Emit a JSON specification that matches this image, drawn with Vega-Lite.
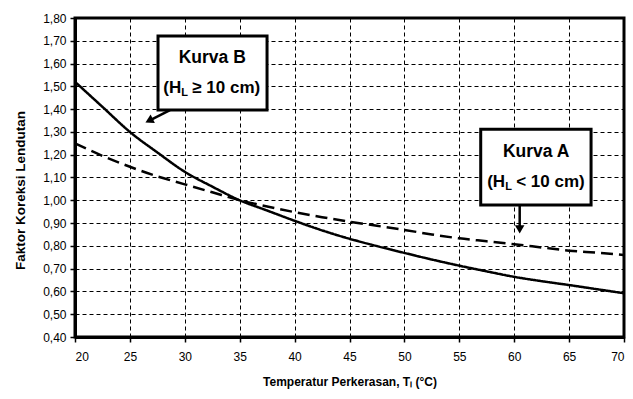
{
  "$schema": "https://vega.github.io/schema/vega-lite/v6.json",
  "width": 549,
  "height": 319,
  "autosize": "none",
  "padding": {"left": 75, "top": 18, "right": 9, "bottom": 62},
  "background": "white",
  "config": {
    "font": "Liberation Sans",
    "view": {"stroke": "black", "strokeWidth": 3},
    "axis": {
      "labelFont": "Liberation Sans",
      "labelFontSize": 12,
      "labelColor": "black",
      "domainColor": "black",
      "domainWidth": 3,
      "tickColor": "black",
      "tickWidth": 1.5,
      "tickSize": 5,
      "gridColor": "black",
      "gridDash": [4, 3],
      "gridWidth": 1,
      "gridOpacity": 1,
      "titleFont": "Liberation Sans",
      "titleFontWeight": "bold",
      "titleColor": "black"
    }
  },
  "encoding": {
    "x": {
      "field": "x",
      "type": "quantitative",
      "scale": {"domain": [20, 70], "nice": false, "zero": false},
      "axis": {
        "grid": true,
        "values": [20, 25, 30, 35, 40, 45, 50, 55, 60, 65, 70],
        "labelOverlap": false,
        "title": "Temperatur Perkerasan, Tₗ (°C)",
        "titleFontSize": 12,
        "titlePadding": 14,
        "labelPadding": 9
      }
    },
    "y": {
      "field": "y",
      "type": "quantitative",
      "scale": {"domain": [0.4, 1.8], "nice": false, "zero": false},
      "axis": {
        "grid": true,
        "values": [0.4, 0.5, 0.6, 0.7, 0.8, 0.9, 1.0, 1.1, 1.2, 1.3, 1.4, 1.5, 1.6, 1.7, 1.8],
        "labelOverlap": false,
        "labelExpr": "replace(format(datum.value, '.2f'), '.', ',')",
        "title": "Faktor Koreksi Lendutan",
        "titleFontSize": 13.5,
        "titlePadding": 15,
        "titleY": 172,
        "labelPadding": 4
      }
    }
  },
  "layer": [
    {
      "data": {
        "values": [
          {"x": 20, "y": 1.52, "kurva": "B"},
          {"x": 22.5, "y": 1.41, "kurva": "B"},
          {"x": 25, "y": 1.30, "kurva": "B"},
          {"x": 27.5, "y": 1.21, "kurva": "B"},
          {"x": 30, "y": 1.125, "kurva": "B"},
          {"x": 32.5, "y": 1.06, "kurva": "B"},
          {"x": 35, "y": 1.00, "kurva": "B"},
          {"x": 37.5, "y": 0.955, "kurva": "B"},
          {"x": 40, "y": 0.91, "kurva": "B"},
          {"x": 42.5, "y": 0.868, "kurva": "B"},
          {"x": 45, "y": 0.831, "kurva": "B"},
          {"x": 47.5, "y": 0.799, "kurva": "B"},
          {"x": 50, "y": 0.769, "kurva": "B"},
          {"x": 52.5, "y": 0.74, "kurva": "B"},
          {"x": 55, "y": 0.713, "kurva": "B"},
          {"x": 57.5, "y": 0.688, "kurva": "B"},
          {"x": 60, "y": 0.664, "kurva": "B"},
          {"x": 62.5, "y": 0.645, "kurva": "B"},
          {"x": 65, "y": 0.628, "kurva": "B"},
          {"x": 67.5, "y": 0.61, "kurva": "B"},
          {"x": 70, "y": 0.592, "kurva": "B"},
          {"x": 20, "y": 1.25, "kurva": "A"},
          {"x": 22.5, "y": 1.195, "kurva": "A"},
          {"x": 25, "y": 1.147, "kurva": "A"},
          {"x": 27.5, "y": 1.105, "kurva": "A"},
          {"x": 30, "y": 1.07, "kurva": "A"},
          {"x": 32.5, "y": 1.035, "kurva": "A"},
          {"x": 35, "y": 1.00, "kurva": "A"},
          {"x": 37.5, "y": 0.973, "kurva": "A"},
          {"x": 40, "y": 0.948, "kurva": "A"},
          {"x": 42.5, "y": 0.926, "kurva": "A"},
          {"x": 45, "y": 0.906, "kurva": "A"},
          {"x": 47.5, "y": 0.888, "kurva": "A"},
          {"x": 50, "y": 0.87, "kurva": "A"},
          {"x": 52.5, "y": 0.85, "kurva": "A"},
          {"x": 55, "y": 0.833, "kurva": "A"},
          {"x": 57.5, "y": 0.82, "kurva": "A"},
          {"x": 60, "y": 0.807, "kurva": "A"},
          {"x": 62.5, "y": 0.793, "kurva": "A"},
          {"x": 65, "y": 0.779, "kurva": "A"},
          {"x": 67.5, "y": 0.77, "kurva": "A"},
          {"x": 70, "y": 0.76, "kurva": "A"}
        ]
      },
      "mark": {"type": "line", "strokeWidth": 2.5, "color": "black", "interpolate": "monotone"},
      "encoding": {
        "detail": {"field": "kurva"},
        "strokeDash": {
          "field": "kurva",
          "type": "nominal",
          "scale": {"domain": ["A", "B"], "range": [[12, 6], [1, 0]]},
          "legend": null
        }
      }
    },
    {
      "data": {
        "values": [
          {"x": 27.56, "x2": 37.49, "y": 1.721, "y2": 1.396},
          {"x": 56.95, "x2": 67.0, "y": 1.312, "y2": 0.979}
        ]
      },
      "mark": {"type": "rect", "fill": "white", "stroke": "black", "strokeWidth": 3},
      "encoding": {
        "x2": {"field": "x2"},
        "y2": {"field": "y2"}
      }
    },
    {
      "data": {
        "values": [
          {"x": 28.65, "y": 1.396, "x2": 26.86, "y2": 1.352},
          {"x": 60.5, "y": 0.979, "x2": 60.5, "y2": 0.88}
        ]
      },
      "mark": {"type": "rule", "stroke": "black", "strokeWidth": 2.5},
      "encoding": {
        "x2": {"field": "x2"},
        "y2": {"field": "y2"}
      }
    },
    {
      "data": {
        "values": [
          {"x": 26.86, "y": 1.352, "a": 243},
          {"x": 60.5, "y": 0.878, "a": 180}
        ]
      },
      "mark": {"type": "point", "shape": "triangle", "filled": true, "color": "black", "size": 90, "opacity": 1},
      "encoding": {
        "angle": {"field": "a", "type": "quantitative", "scale": null}
      }
    },
    {
      "data": {
        "values": [
          {"x": 32.5, "y": 1.624, "label": "Kurva B"},
          {"x": 62.0, "y": 1.213, "label": "Kurva A"}
        ]
      },
      "mark": {"type": "text", "font": "Liberation Sans", "fontWeight": "bold", "fontSize": 17.5, "color": "black", "baseline": "middle", "align": "center"},
      "encoding": {
        "text": {"field": "label"}
      }
    },
    {
      "data": {
        "values": [
          {"x": 32.5, "y": 1.493, "label": "(H"},
          {"x": 62.0, "y": 1.082, "label": "(H"}
        ]
      },
      "mark": {"type": "text", "font": "Liberation Sans", "fontWeight": "bold", "fontSize": 17, "color": "black", "baseline": "middle", "align": "right", "dx": -31},
      "encoding": {
        "text": {"field": "label"}
      }
    },
    {
      "data": {
        "values": [
          {"x": 32.5, "y": 1.493, "label": "L"},
          {"x": 62.0, "y": 1.082, "label": "L"}
        ]
      },
      "mark": {"type": "text", "font": "Liberation Sans", "fontWeight": "bold", "fontSize": 11, "color": "black", "baseline": "middle", "align": "left", "dx": -31, "dy": 5},
      "encoding": {
        "text": {"field": "label"}
      }
    },
    {
      "data": {
        "values": [
          {"x": 32.5, "y": 1.493, "label": "≥ 10 cm)"},
          {"x": 62.0, "y": 1.082, "label": "< 10 cm)"}
        ]
      },
      "mark": {"type": "text", "font": "Liberation Sans", "fontWeight": "bold", "fontSize": 17, "color": "black", "baseline": "middle", "align": "left", "dx": -20},
      "encoding": {
        "text": {"field": "label"}
      }
    }
  ]
}
